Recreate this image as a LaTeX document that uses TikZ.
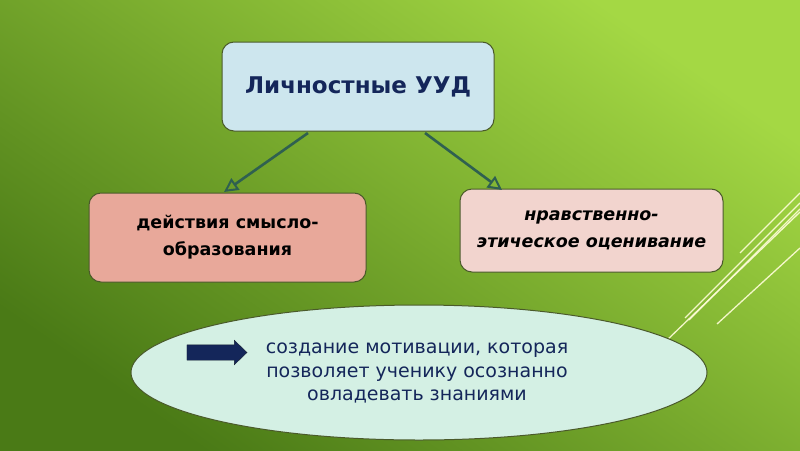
\documentclass[tikz,border=0pt]{standalone}
\usepackage{fontspec}
\setmainfont{DejaVu Sans}
\usetikzlibrary{arrows.meta,shapes.geometric,shapes.arrows}
\definecolor{navy}{HTML}{14265A}
\definecolor{edge}{HTML}{4A5A2A}
\definecolor{conn}{HTML}{2F6050}
\definecolor{bglight}{RGB}{164,216,68}
\definecolor{bgdark}{RGB}{74,122,22}
\tikzset{
  box/.style={draw=edge, line width=1pt, rounded corners=12pt, align=center, inner sep=0pt},
  conarrow/.style={draw=conn, line width=2.6pt, -{Triangle[open, length=14pt, width=14pt, line width=2pt]}},
  deco/.style={draw=white!85!yellow, line width=1.3pt, opacity=0.9}
}
\begin{document}
\begin{tikzpicture}[x=1pt,y=-1pt]
\useasboundingbox (0,0) rectangle (800,450);
\shade[top color=bglight, bottom color=bgdark, shading angle=-35] (0,0) rectangle (800,450);
% decorative lines
\draw[deco] (740,253) -- (800,193);
\draw[deco] (685,318) -- (800,203);
\draw[deco] (689,320) -- (800,209);
\draw[deco] (717,324) -- (800,248);
\draw[deco] (665,342) -- (800,212);
% boxes
\node[box, fill={rgb,255:red,205;green,230;blue,238}, minimum width=272pt, minimum height=89pt,
      text=navy, font=\fontsize{23}{27}\selectfont\bfseries] (top) at (358,86.5) {Личностные УУД};
\node[box, fill={rgb,255:red,232;green,168;blue,154}, minimum width=277pt, minimum height=89pt,
      font=\fontsize{17.5}{27}\selectfont\bfseries] (left) at (227.5,237.5) {действия смысло-\\образования};
\node[box, fill={rgb,255:red,242;green,212;blue,206}, minimum width=263pt, minimum height=83pt,
      font=\fontsize{17.5}{27}\selectfont\bfseries\itshape] (right) at (591.5,230.5) {нравственно-\\этическое оценивание};
% connectors
\coordinate (a1) at (308,133);
\coordinate (a2) at (425,133);
\coordinate (b1) at (224,192);
\coordinate (b2) at (502,190);
\draw[conarrow] (a1) -- (b1);
\draw[conarrow] (a2) -- (b2);
% ellipse
\node[ellipse, draw=edge, line width=1pt, fill={rgb,255:red,212;green,240;blue,228},
      minimum width=576pt, minimum height=135pt] (ell) at (419,372.5) {};
\node[single arrow, draw={rgb,255:red,20;green,30;blue,50}, fill=navy, minimum height=60pt,
      single arrow head extend=4.5pt, single arrow tip angle=88, inner xsep=0pt, inner ysep=7.5pt,
      text height=0pt, text depth=0pt, text width=0pt] (blk) at (213,352.5) {};
\node[text=navy, align=center, font=\fontsize{19}{23.5}\selectfont] (txt) at (417,373) {создание мотивации, которая\\позволяет ученику осознанно\\овладевать знаниями};
\end{tikzpicture}
\end{document}
